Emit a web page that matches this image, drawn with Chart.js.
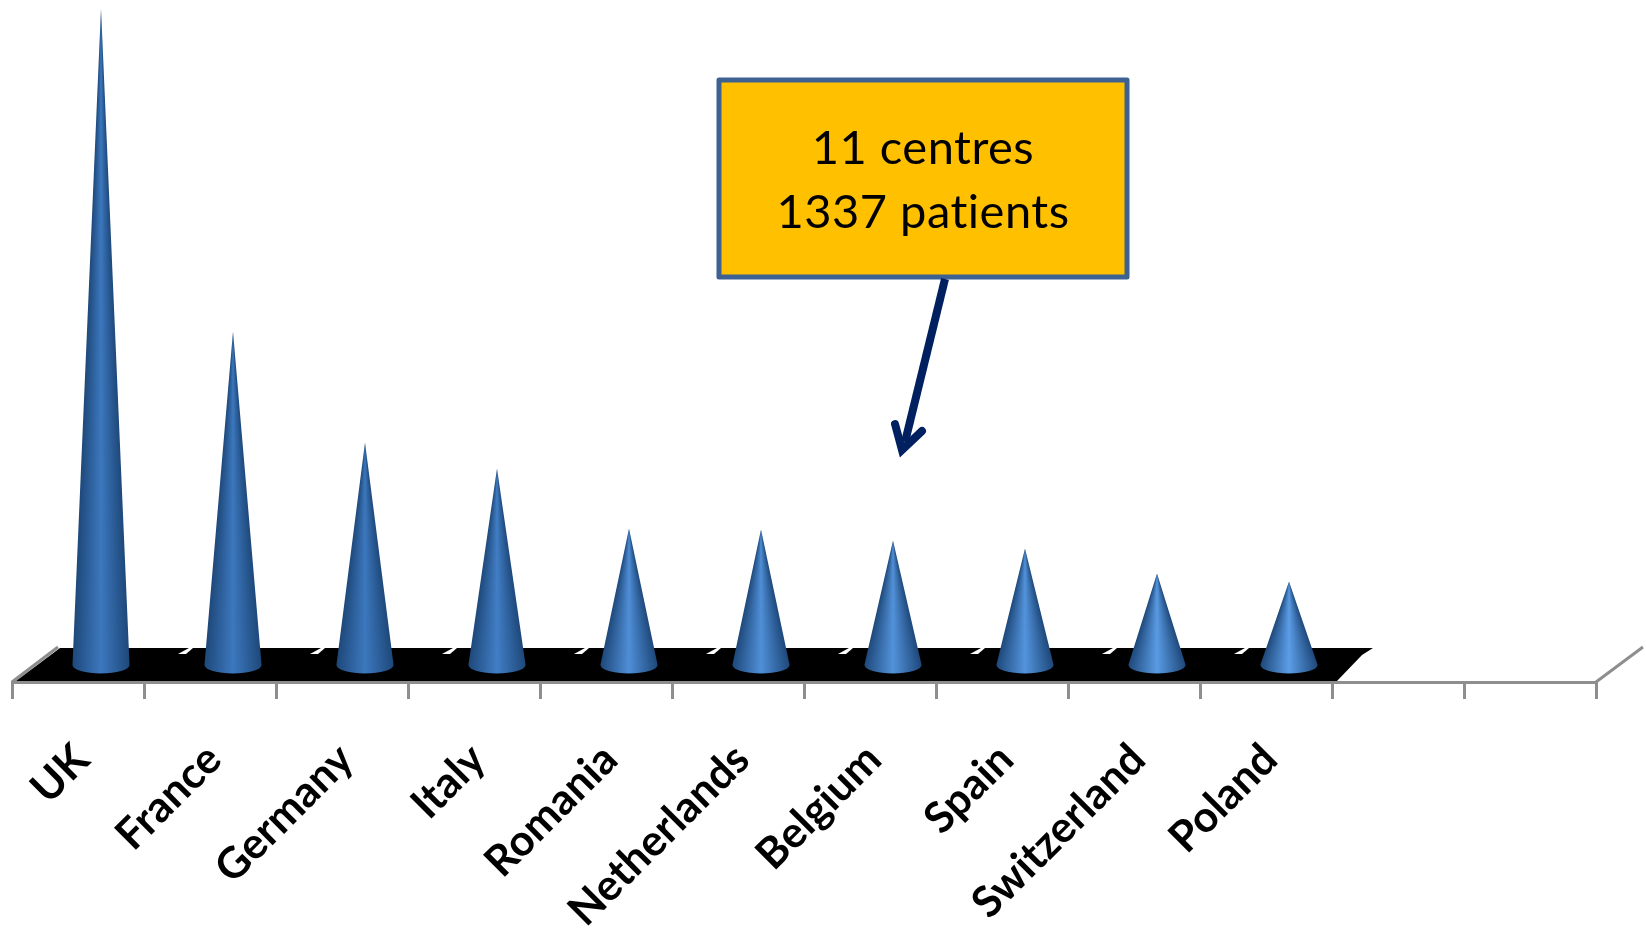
<!DOCTYPE html>
<html>
<head>
<meta charset="utf-8">
<script src="https://cdn.jsdelivr.net/npm/chart.js@4"></script>
<style>
  html, body { margin: 0; padding: 0; background: #fff; }
  canvas { display: block; }
</style>
</head>
<body>
<canvas id="myChart" width="1646" height="930"></canvas>
<script>
// countries, last two slots stay empty on the axis
var categories = ["UK", "France", "Germany", "Italy", "Romania", "Netherlands", "Belgium", "Spain", "Switzerland", "Poland", "", ""];
var patients = [419, 213, 142, 125, 87, 86, 79, 74, 58, 53, null, null];
var calloutLines = ["11 centres", "1337 patients"];

var depthX = 46;   // how far the 3D floor runs back
var depthY = 35;
var coneShift = 23;

function mix(a, b, k) {
  let m = [0, 1, 2].map(function (i) { return Math.round(a[i] + (b[i] - a[i]) * k); });
  return "rgb(" + m.join(",") + ")";
}

function drawFloor(chart) {
  let c = chart.ctx;
  let x = chart.scales.x;
  let area = chart.chartArea;
  let bottom = area.bottom;
  let left = area.left;
  let step = x.getPixelForTick(1) - x.getPixelForTick(0);
  let end = left + step * 10;

  c.save();
  c.strokeStyle = "#8e8e8e";
  c.lineWidth = 3;
  c.beginPath();
  c.moveTo(left, bottom);
  c.lineTo(left + depthX, bottom - depthY);
  c.moveTo(area.right, bottom);
  c.lineTo(area.right + depthX + 1, bottom - depthY);
  c.stroke();

  c.fillStyle = "#000";
  c.beginPath();
  c.moveTo(left + 4, bottom - 1);
  c.lineTo(left + depthX + 2, bottom - depthY + 1);
  c.lineTo(end + 41, bottom - depthY + 1);
  c.lineTo(end + 30, bottom - depthY + 8);
  c.lineTo(end + 5, bottom - 1);
  c.closePath();
  c.fill();

  // bits of floor grid showing through at the back
  c.fillStyle = "#fff";
  for (let i = 1; i < 10; i++) {
    let t = left + step * i;
    c.beginPath();
    c.moveTo(t + 34, bottom - 28);
    c.lineTo(t + 42, bottom - 28);
    c.lineTo(t + 49, bottom - 34);
    c.lineTo(t + 45, bottom - 34);
    c.closePath();
    c.fill();
  }
  c.restore();
}

function coneFill(c, cx, w, dark, light) {
  let g = c.createLinearGradient(cx - w, 0, cx + w, 0);
  g.addColorStop(0, dark);
  g.addColorStop(0.5, light);
  g.addColorStop(1, dark);
  return g;
}

function drawCone(c, cx, tip, base, r, value) {
  let ry = 8.5;
  let k = Math.min(1, Math.max(0, (value - 50) / 90));
  let light = mix([92, 158, 232], [60, 120, 190], k);
  let dark = "rgb(30,72,122)";
  tip = Math.round(tip);
  base = Math.round(base);
  // one strip per pixel row so the shading narrows towards the tip
  for (let y = tip; y < base; y++) {
    let w = r * (y + 1 - tip) / (base - tip);
    c.fillStyle = coneFill(c, cx, w, dark, light);
    c.fillRect(cx - w, y, w * 2, 1);
  }
  c.fillStyle = coneFill(c, cx, r, dark, light);
  c.beginPath();
  c.ellipse(cx, base, r, ry, 0, 0, Math.PI);
  c.fill();
}

function drawCallout(c) {
  c.save();
  c.fillStyle = "#ffc000";
  c.strokeStyle = "#3d6291";
  c.lineWidth = 5;
  c.lineJoin = "round";
  c.beginPath();
  c.rect(719, 80, 408, 197);
  c.fill();
  c.stroke();

  c.fillStyle = "#000";
  c.font = "47px Lato";
  c.letterSpacing = "0.5px";
  c.textAlign = "center";
  c.textBaseline = "alphabetic";
  c.fillText(calloutLines[0], 923, 164);
  c.fillText(calloutLines[1], 923, 228);
  c.letterSpacing = "0px";

  c.strokeStyle = "#002060";
  c.lineWidth = 8;
  c.lineCap = "butt";
  c.beginPath();
  c.moveTo(945, 279);
  c.lineTo(905, 442);
  c.stroke();
  c.lineCap = "round";
  c.lineJoin = "miter";
  c.beginPath();
  c.moveTo(895, 424);
  c.lineTo(902, 450);
  c.lineTo(922, 431);
  c.stroke();
  c.restore();
}

var conePlugin = {
  id: "cones",
  beforeDatasetsDraw: function (chart) {
    drawFloor(chart);
  },
  afterDatasetsDraw: function (chart) {
    let meta = chart.getDatasetMeta(0);
    meta.data.forEach(function (bar, i) {
      if (patients[i] == null) return;
      let p = bar.getProps(["x", "y", "base", "width"], true);
      drawCone(chart.ctx, p.x + coneShift, p.y, p.base, p.width / 2, patients[i]);
    });
    drawCallout(chart.ctx);
  }
};

var ctx = document.getElementById("myChart").getContext("2d");
var myChart = new Chart(ctx, {
  type: "bar",
  plugins: [conePlugin],
  data: {
    labels: categories,
    datasets: [{
      label: "Patients",
      data: patients,
      backgroundColor: "rgba(0,0,0,0)",
      borderWidth: 0,
      categoryPercentage: 1,
      barPercentage: 0.432
    }]
  },
  options: {
    responsive: false,
    animation: false,
    layout: {
      autoPadding: false,
      padding: { left: 12, right: 50, top: 0, bottom: 0 }
    },
    plugins: {
      legend: { display: false },
      tooltip: { enabled: false }
    },
    scales: {
      x: {
        afterFit: function (scale) {
          scale.height = 248;
          scale.paddingLeft = 0;
          scale.paddingRight = 0;
        },
        border: { color: "#8e8e8e", width: 3 },
        grid: {
          drawOnChartArea: false,
          color: "#8e8e8e",
          lineWidth: 3,
          tickLength: 17
        },
        ticks: {
          autoSkip: false,
          minRotation: 45,
          maxRotation: 45,
          padding: 35,
          labelOffset: 4,
          color: "#000",
          font: { family: "Lato", size: 43, weight: "bold" }
        }
      },
      y: {
        display: false,
        min: -11,
        max: 425
      }
    }
  }
});
</script>
</body>
</html>
